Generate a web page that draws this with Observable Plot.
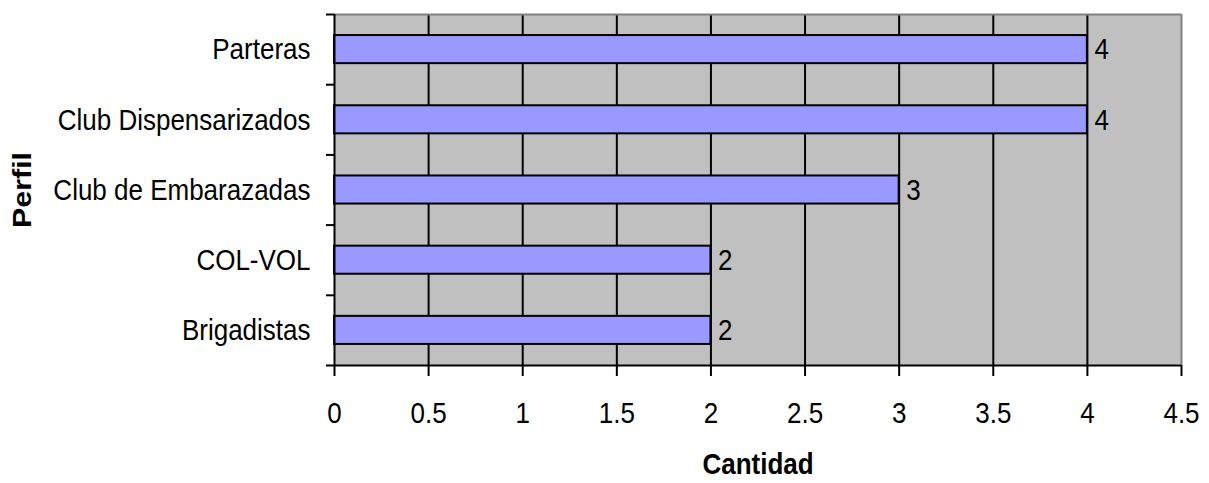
<!DOCTYPE html>
<html>
<head>
<meta charset="utf-8">
<script src="https://cdn.jsdelivr.net/npm/d3@7"></script>
<script src="https://cdn.jsdelivr.net/npm/@observablehq/plot@0.6"></script>
<style>
  html, body { margin: 0; padding: 0; background: #ffffff; }
  #chart svg { display: block; }
</style>
</head>
<body>
<div id="chart"></div>
<script>
const categories = ["Parteras", "Club Dispensarizados", "Club de Embarazadas", "COL-VOL", "Brigadistas"];
const values = [4, 4, 3, 2, 2];
const xTicks = [0, 0.5, 1, 1.5, 2, 2.5, 3, 3.5, 4, 4.5];
const xLabel = "Cantidad";
const yLabel = "Perfil";

const data = categories.map((c, i) => ({perfil: c, cantidad: values[i], i}));
const bandBounds = categories.map((c, i) => i).concat([categories.length]);
const bandCenters = categories.map((c, i) => i + 0.5);

const chart = Plot.plot({
  width: 1209,
  height: 483,
  marginLeft: 334,
  marginRight: 28,
  marginTop: 14,
  marginBottom: 118,
  style: {fontFamily: "'Liberation Sans', Arial, sans-serif", fontSize: "26px", color: "black", background: "white"},
  x: {domain: [0, 4.5]},
  y: {domain: [0, categories.length], reverse: true},
  marks: [
    Plot.frame({fill: "#c0c0c0", stroke: null}),
    Plot.ruleX(xTicks.filter(t => t > 0 && t < 4.5), {stroke: "black", strokeWidth: 2}),
    Plot.ruleX([4.5], {stroke: "#808080", strokeWidth: 2}),
    Plot.ruleY([0], {stroke: "#808080", strokeWidth: 2}),
    Plot.rect(data, {x1: 0, x2: "cantidad", y1: d => d.i + 0.3, y2: d => d.i + 0.7, fill: "#9999ff", stroke: "black", strokeWidth: 2}),
    Plot.text(data, {x: "cantidad", y: d => d.i + 0.5, text: d => String(d.cantidad), dx: 7, textAnchor: "start", fontSize: 26, fill: "black"}),
    Plot.ruleX([0], {stroke: "black", strokeWidth: 2}),
    Plot.ruleY([categories.length], {stroke: "black", strokeWidth: 2}),
    Plot.axisX({ticks: xTicks, tickSize: 11, tickPadding: 25, strokeWidth: 2, tickFormat: d => String(d), fontSize: 26,
      label: xLabel, labelAnchor: "center", labelOffset: 108}),
    Plot.axisY({ticks: bandBounds, tickSize: 8, strokeWidth: 2, tickFormat: () => "", label: null}),
    Plot.axisY({ticks: bandCenters, tickSize: 0, tickPadding: 24, fontSize: 26, tickFormat: v => categories[Math.floor(v)],
      label: yLabel, labelAnchor: "center", labelOffset: 322})
  ]
});

document.getElementById("chart").appendChild(chart);

// remove the direction arrows Plot adds to axis titles; make them bold
chart.querySelectorAll('g[aria-label="x-axis label"] text, g[aria-label="y-axis label"] text').forEach(t => {
  t.textContent = t.textContent.replace(/[\u2190-\u2193]/g, "").trim();
  t.setAttribute("font-weight", "bold");
  t.setAttribute("fill", "black");
});

// Excel-like vertical stretch of the text
const S = 1.17;
chart.querySelectorAll("text").forEach(t => {
  const tr = t.getAttribute("transform") || "";
  if (tr) {
    if (tr.includes("rotate")) t.setAttribute("transform", tr + ` scale(${S},1)`);
    else t.setAttribute("transform", tr + ` scale(1,${S})`);
  } else {
    const x = +(t.getAttribute("x") || 0), y = +(t.getAttribute("y") || 0);
    t.setAttribute("x", 0); t.setAttribute("y", 0);
    t.setAttribute("transform", `translate(${x},${y}) scale(1,${S})`);
  }
});
</script>
</body>
</html>
